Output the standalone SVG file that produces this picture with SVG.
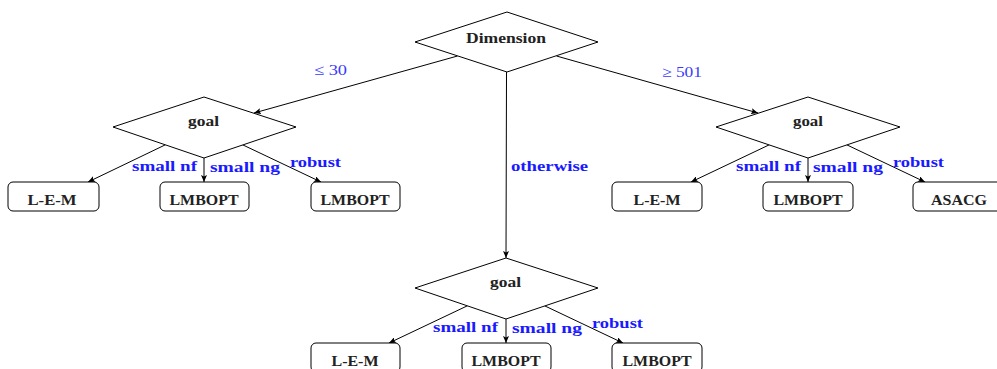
<svg xmlns="http://www.w3.org/2000/svg" width="997" height="369" viewBox="0 0 997 369">
<defs>
<marker id="arr" markerUnits="userSpaceOnUse" markerWidth="8" markerHeight="6" refX="7" refY="3" orient="auto">
<path d="M0,0 L7,3 L0,6 L1.5,3 Z" fill="#000"/>
</marker>
</defs>
<style>
.dia{fill:#fff;stroke:#000;stroke-width:1}
.box{fill:#fff;stroke:#000;stroke-width:1}
.edge{fill:none;stroke:#000;stroke-width:1;marker-end:url(#arr)}
.t{font-family:"Liberation Serif","DejaVu Serif",serif;font-weight:bold;font-size:14px;fill:#222}
.bt{font-family:"Liberation Serif","DejaVu Serif",serif;font-weight:bold;font-size:14px;fill:#222;text-anchor:middle}
.lb{font-family:"Liberation Serif","DejaVu Serif",serif;font-weight:bold;font-size:14px;fill:#1a1aff}
.ln{font-family:"Liberation Serif","DejaVu Serif",serif;font-size:15px;fill:#3a3aff}
</style>
<rect width="997" height="369" fill="#fff"/>
<g id="connectors">
<line class="edge" x1="457.5" y1="56" x2="254" y2="113"/>
<line class="edge" x1="556.5" y1="56" x2="758" y2="113"/>
<line class="edge" x1="506.5" y1="72" x2="506" y2="258"/>
<line class="edge" x1="165.6" y1="144.7" x2="88" y2="182"/>
<line class="edge" x1="204" y1="158" x2="204" y2="182"/>
<line class="edge" x1="242.4" y1="144.7" x2="321" y2="182"/>
<line class="edge" x1="769.5" y1="144.7" x2="691" y2="182"/>
<line class="edge" x1="808" y1="158" x2="808" y2="182"/>
<line class="edge" x1="846.5" y1="144.7" x2="925" y2="182"/>
<line class="edge" x1="467.6" y1="305.7" x2="389" y2="343"/>
<line class="edge" x1="506" y1="319" x2="506" y2="343"/>
<line class="edge" x1="544.4" y1="305.7" x2="623" y2="343"/>
<text class="ln" x="314" y="75" textLength="33" lengthAdjust="spacingAndGlyphs">≤ 30</text>
<text class="ln" x="662" y="77" textLength="40" lengthAdjust="spacingAndGlyphs">≥ 501</text>
<text class="lb" x="511" y="171" textLength="77" lengthAdjust="spacingAndGlyphs">otherwise</text>
<text class="lb" x="132" y="171" textLength="65" lengthAdjust="spacingAndGlyphs">small nf</text>
<text class="lb" x="210" y="172" textLength="70" lengthAdjust="spacingAndGlyphs">small ng</text>
<text class="lb" x="290" y="167" textLength="51" lengthAdjust="spacingAndGlyphs">robust</text>
<text class="lb" x="736" y="171" textLength="65" lengthAdjust="spacingAndGlyphs">small nf</text>
<text class="lb" x="813" y="172" textLength="70" lengthAdjust="spacingAndGlyphs">small ng</text>
<text class="lb" x="893" y="167" textLength="51" lengthAdjust="spacingAndGlyphs">robust</text>
<text class="lb" x="433" y="332" textLength="65" lengthAdjust="spacingAndGlyphs">small nf</text>
<text class="lb" x="512" y="333" textLength="70" lengthAdjust="spacingAndGlyphs">small ng</text>
<text class="lb" x="592" y="328" textLength="51" lengthAdjust="spacingAndGlyphs">robust</text>
</g>
<g id="dimension">
<polygon class="dia" points="415,42 507,12 598,42 507,72"/>
<text class="t" x="466" y="43" textLength="80" lengthAdjust="spacingAndGlyphs">Dimension</text>
</g>
<g id="goal-left">
<polygon class="dia" points="113,127 204,97 296,127 204,158"/>
<text class="t" x="188" y="126" textLength="31" lengthAdjust="spacingAndGlyphs">goal</text>
</g>
<g id="goal-right">
<polygon class="dia" points="716,127 808,97 900,127 808,158"/>
<text class="t" x="793" y="126" textLength="30" lengthAdjust="spacingAndGlyphs">goal</text>
</g>
<g id="goal-bottom">
<polygon class="dia" points="415,288 506,258 598,288 506,319"/>
<text class="t" x="490" y="287" textLength="31" lengthAdjust="spacingAndGlyphs">goal</text>
</g>
<g id="lem-left">
<rect class="box" x="8" y="182" width="91" height="29" rx="5"/>
<text class="bt" x="52" y="205" textLength="49" lengthAdjust="spacingAndGlyphs">L-E-M</text>
</g>
<g id="lmbopt-left-1">
<rect class="box" x="160" y="182" width="89" height="29" rx="5"/>
<text class="bt" x="204" y="205" textLength="69" lengthAdjust="spacingAndGlyphs">LMBOPT</text>
</g>
<g id="lmbopt-left-2">
<rect class="box" x="311" y="182" width="89" height="29" rx="5"/>
<text class="bt" x="355" y="205" textLength="69" lengthAdjust="spacingAndGlyphs">LMBOPT</text>
</g>
<g id="lem-right">
<rect class="box" x="612" y="182" width="90" height="29" rx="5"/>
<text class="bt" x="657" y="205" textLength="47" lengthAdjust="spacingAndGlyphs">L-E-M</text>
</g>
<g id="lmbopt-right">
<rect class="box" x="763" y="182" width="90" height="29" rx="5"/>
<text class="bt" x="808" y="205" textLength="69" lengthAdjust="spacingAndGlyphs">LMBOPT</text>
</g>
<g id="asacg">
<rect class="box" x="913" y="182" width="90" height="29" rx="5"/>
<text class="bt" x="959" y="205" textLength="56" lengthAdjust="spacingAndGlyphs">ASACG</text>
</g>
<g id="lem-bottom">
<rect class="box" x="311" y="343" width="89" height="29" rx="5"/>
<text class="bt" x="355" y="366" textLength="47" lengthAdjust="spacingAndGlyphs">L-E-M</text>
</g>
<g id="lmbopt-bottom-1">
<rect class="box" x="462" y="343" width="89" height="29" rx="5"/>
<text class="bt" x="506" y="366" textLength="69" lengthAdjust="spacingAndGlyphs">LMBOPT</text>
</g>
<g id="lmbopt-bottom-2">
<rect class="box" x="612" y="343" width="90" height="29" rx="5"/>
<text class="bt" x="657" y="366" textLength="69" lengthAdjust="spacingAndGlyphs">LMBOPT</text>
</g>
</svg>
